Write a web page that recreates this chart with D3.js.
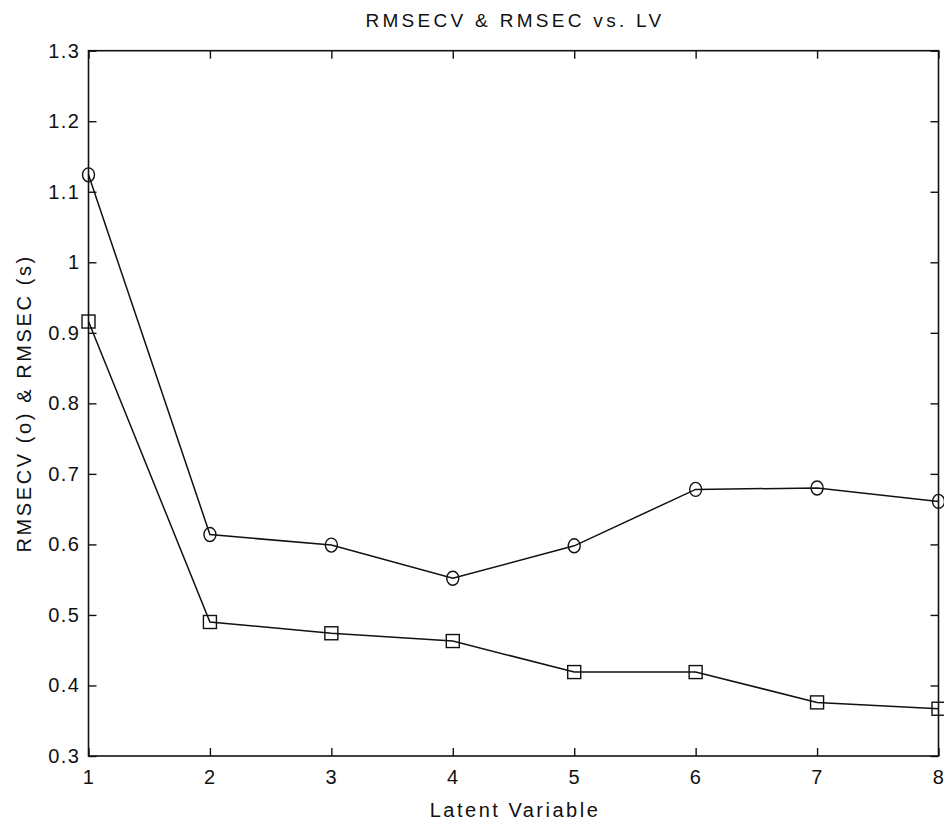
<!DOCTYPE html>
<html>
<head>
<meta charset="utf-8">
<script src="https://cdn.jsdelivr.net/npm/d3@7"></script>
<style>
  body { margin: 0; background: #fff; }
  svg text { font-family: "Liberation Sans", Arial, sans-serif; fill: #111; }
</style>
</head>
<body>
<div id="chart"></div>
<script>
// latent variable numbers
const lv = [1, 2, 3, 4, 5, 6, 7, 8];
// RMSECV (circles) and RMSEC (squares)
const rmsecv = [1.124, 0.614, 0.599, 0.552, 0.598, 0.678, 0.680, 0.661];
const rmsec = [0.916, 0.490, 0.474, 0.463, 0.419, 0.419, 0.376, 0.367];
const yTicks = [0.3, 0.4, 0.5, 0.6, 0.7, 0.8, 0.9, 1, 1.1, 1.2, 1.3];

const W = 944, H = 824;
const margin = { top: 50.7, right: 5.5, bottom: 68, left: 88.5 };
const w = W - margin.left - margin.right;
const h = H - margin.top - margin.bottom;

const svg = d3.select("#chart").append("svg")
  .attr("width", W)
  .attr("height", H);

const x = d3.scaleLinear().domain([1, 8]).range([margin.left, margin.left + w]);
const y = d3.scaleLinear().domain([0.3, 1.3]).range([margin.top + h, margin.top]);

const tickLen = 8;
const fmt = d => (d === 1 ? "1" : d3.format(".1f")(d));

// inward ticks on all four sides, like a matlab box
const bottomAxis = d3.axisBottom(x).tickValues(lv).tickSize(-tickLen).tickPadding(14).tickFormat(d3.format("d"));
const topAxis = d3.axisTop(x).tickValues(lv).tickSize(-tickLen).tickFormat("");
const leftAxis = d3.axisLeft(y).tickValues(yTicks).tickSize(-tickLen).tickPadding(8).tickFormat(fmt);
const rightAxis = d3.axisRight(y).tickValues(yTicks).tickSize(-tickLen).tickFormat("");

function styleAxis(g) {
  g.select(".domain").remove();
  g.selectAll("line").attr("stroke", "#111").attr("stroke-width", 1.4);
  g.selectAll("text")
    .style("font-size", "20px")
    .style("letter-spacing", "1.5px");
}

svg.append("g").attr("transform", `translate(0,${margin.top + h})`).call(bottomAxis).call(styleAxis);
svg.append("g").attr("transform", `translate(0,${margin.top})`).call(topAxis).call(styleAxis);
svg.append("g").attr("transform", `translate(${margin.left},0)`).call(leftAxis).call(styleAxis);
svg.append("g").attr("transform", `translate(${margin.left + w},0)`).call(rightAxis).call(styleAxis);

// box
svg.append("rect")
  .attr("x", margin.left).attr("y", margin.top)
  .attr("width", w).attr("height", h)
  .attr("fill", "none")
  .attr("stroke", "#111")
  .attr("stroke-width", 1.6);

const line = d3.line().x((d, i) => x(lv[i])).y(d => y(d));

svg.append("path").datum(rmsecv)
  .attr("d", line).attr("fill", "none")
  .attr("stroke", "#111").attr("stroke-width", 1.5);
svg.append("path").datum(rmsec)
  .attr("d", line).attr("fill", "none")
  .attr("stroke", "#111").attr("stroke-width", 1.5);

svg.selectAll(".cv").data(rmsecv).enter()
  .append("ellipse")
  .attr("class", "cv")
  .attr("cx", (d, i) => x(lv[i]))
  .attr("cy", d => y(d))
  .attr("rx", 6).attr("ry", 7)
  .attr("fill", "none")
  .attr("stroke", "#111").attr("stroke-width", 1.4);

const s = 13;
svg.selectAll(".c").data(rmsec).enter()
  .append("rect")
  .attr("class", "c")
  .attr("x", (d, i) => x(lv[i]) - s / 2)
  .attr("y", d => y(d) - s / 2)
  .attr("width", s).attr("height", s)
  .attr("fill", "none")
  .attr("stroke", "#111").attr("stroke-width", 1.4);

// labels
svg.append("text")
  .attr("x", margin.left + w / 2 + 1.5).attr("y", 27)
  .attr("text-anchor", "middle")
  .style("font-size", "19px").style("letter-spacing", "3.3px")
  .text("RMSECV & RMSEC vs. LV");

svg.append("text")
  .attr("x", margin.left + w / 2 + 1.5).attr("y", 817)
  .attr("text-anchor", "middle")
  .style("font-size", "20px").style("letter-spacing", "2.5px")
  .text("Latent Variable");

svg.append("text")
  .attr("transform", `translate(31,${margin.top + h / 2}) rotate(-90)`)
  .attr("text-anchor", "middle")
  .style("font-size", "20px").style("letter-spacing", "2.6px")
  .text("RMSECV (o) & RMSEC (s)");
</script>
</body>
</html>
